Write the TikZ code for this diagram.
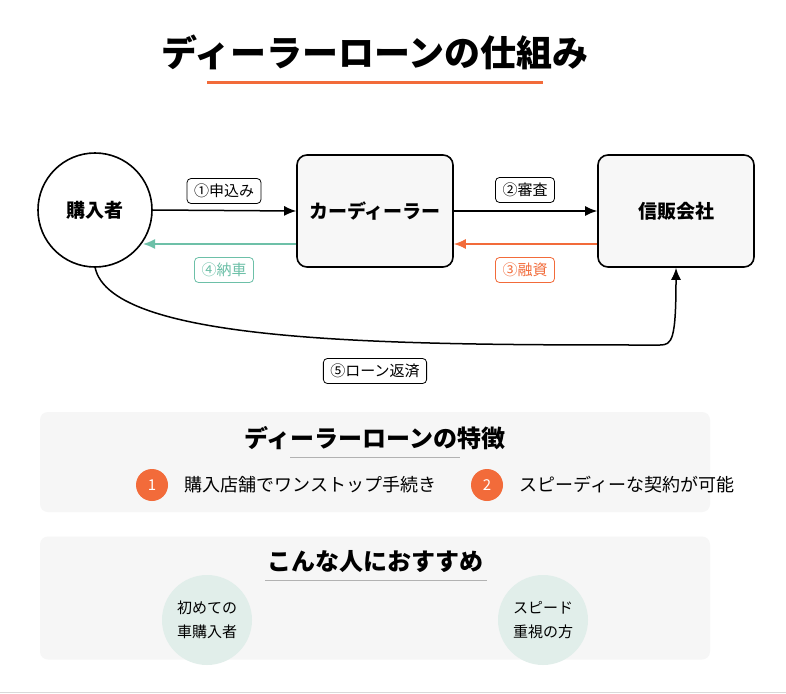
\documentclass[tikz,border=0pt]{standalone}
\usepackage{fontspec}
\setmainfont{Noto Sans CJK JP}
\usetikzlibrary{arrows.meta}
\definecolor{org}{HTML}{F26B3A}
\definecolor{grn}{HTML}{6DC0A8}
\definecolor{boxfill}{HTML}{F7F7F7}
\definecolor{panel}{HTML}{F6F6F6}
\definecolor{pale}{HTML}{E1EEEA}
\tikzset{
 ent/.style={draw=black,line width=1.6pt,fill=boxfill,rounded corners=10pt,minimum width=156pt,minimum height=112pt,font=\fontsize{19}{22}\selectfont\bfseries},
 lab/.style={draw=#1,text=#1,rounded corners=4pt,line width=0.8pt,fill=white,font=\fontsize{15}{17}\selectfont,inner xsep=7pt,inner ysep=3pt,minimum height=25pt},
 arr/.style={-{Latex[length=12pt,width=10pt]},line width=1.5pt,draw=#1},
 num/.style={circle,fill=org,text=white,minimum size=32pt,inner sep=0pt,font=\fontsize{15}{17}\selectfont},
 who/.style={circle,fill=pale,minimum size=90pt,inner sep=0pt,align=center,font=\fontsize{15}{24}\selectfont},
 ptitle/.style={font=\fontsize{24}{28}\selectfont\bfseries},
 ptext/.style={font=\fontsize{18}{21}\selectfont,anchor=west}
}
\begin{document}
\begin{tikzpicture}[x=1pt,y=-1pt]
\useasboundingbox[fill=white] (0,0) rectangle (786,693);
\node[font=\fontsize{36}{40}\selectfont\bfseries] (title) at (375,52) {ディーラーローンの仕組み};
\draw[org,line width=3pt] (207,82) -- (543,82);
\node[circle,draw,line width=1.6pt,fill=white,minimum size=114pt,font=\fontsize{19}{22}\selectfont\bfseries] (buyer) at (95,210) {購入者};
\node[ent] (dealer) at (375,211) {カーディーラー};
\node[ent] (credit) at (676,211) {信販会社};
\draw[arr=black] (buyer.east) -- (dealer.west);
\draw[arr=black] (dealer.east) -- (credit.west);
\draw[arr=grn] ([yshift=-33pt]dealer.west) -- (143,244);
\draw[arr=org] ([yshift=-33pt]credit.west) -- ([yshift=-33pt]dealer.east);
\node[lab=black] (l1) at (224,191) {①申込み};
\node[lab=black] (l2) at (525,190) {②審査};
\node[lab=grn] (l4) at (224,270) {④納車};
\node[lab=org] (l3) at (525,270) {③融資};
\draw[arr=black] (95,267) .. controls (110,345) and (400,345) .. (660,345) .. controls (672,345) and (676,340) .. (credit.south);
\node[lab=black] (l5) at (375,371) {⑤ローン返済};
% panel 1
\node[fill=panel,rounded corners=8pt,minimum width=670pt,minimum height=100pt] (p1) at (375,462) {};
\node[ptitle] (t1) at (375,438) {ディーラーローンの特徴};
\draw[gray!60,line width=0.8pt] (290,457) -- (460,457);
\node[num] (n1) at (152,485) {1};
\node[ptext] (f1) at (181,485) {購入店舗でワンストップ手続き};
\node[num] (n2) at (487,485) {2};
\node[ptext] (f2) at (516,485) {スピーディーな契約が可能};
% panel 2
\node[fill=panel,rounded corners=8pt,minimum width=670pt,minimum height=123pt] (p2) at (375,598) {};
\node[ptitle] (t2) at (375,562) {こんな人におすすめ};
\draw[gray!60,line width=0.8pt] (265,580) -- (487,580);
\node[who] (w1) at (207,620) {初めての\\車購入者};
\node[who] (w2) at (543,620) {スピード\\重視の方};
\draw[gray!30,line width=1pt] (0,692) -- (786,692);
\end{tikzpicture}
\end{document}
